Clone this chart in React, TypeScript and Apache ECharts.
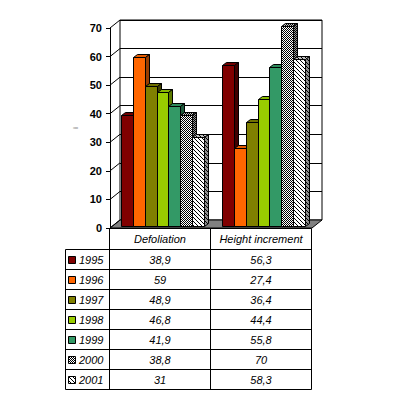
import React, { useEffect, useRef } from "react";
import * as echarts from "echarts";

const CATEGORIES = ["Defoliation", "Height increment"];
const YEARS = ["1995", "1996", "1997", "1998", "1999", "2000", "2001"];
const VALUES: number[][] = [
  [38.9, 56.3],
  [59, 27.4],
  [48.9, 36.4],
  [46.8, 44.4],
  [41.9, 55.8],
  [38.8, 70],
  [31, 58.3],
];
const Y_TICKS = [0, 10, 20, 30, 40, 50, 60, 70];
const Y_NAME = "i";

const FRONT = ["#800000", "#FF6600", "#808000", "#99CC00", "#339966", "pat1", "pat2"];
const TOPC = ["#700000", "#E65C00", "#707000", "#88B800", "#2E8A5C", "pat1t", "pat2t"];
const SIDE = ["#400000", "#993D00", "#404000", "#5C7A00", "#1F5C3D", "pat1s", "pat2s"];

const DEPTH_X = 10;
const DEPTH_Y = 8;
const BAR_DX = 4;
const BAR_DY = 3;
const GROUP_FRAC = 83 / 101;

function makePattern(size: number, fg: string, bg: string, fn: (x: number, y: number) => boolean) {
  const c = document.createElement("canvas");
  c.width = size;
  c.height = size;
  const ctx = c.getContext("2d")!;
  ctx.fillStyle = bg;
  ctx.fillRect(0, 0, size, size);
  ctx.fillStyle = fg;
  for (let y = 0; y < size; y++)
    for (let x = 0; x < size; x++) if (fn(x, y)) ctx.fillRect(x, y, 1, 1);
  return { image: c.toDataURL(), repeat: "repeat", imageWidth: size, imageHeight: size } as any;
}

const fmt = (v: number) => String(v).replace(".", ",");

export default function App() {
  const ref = useRef<HTMLDivElement>(null);
  useEffect(() => {
    document.body.style.margin = "0";
    const chart = echarts.init(ref.current!, null, { renderer: "svg" });
    const checker = (x: number, y: number) => (x + y) % 2 === 0;
    const hatch = (x: number, y: number) => x === y;
    const pats: Record<string, any> = {
      pat1: makePattern(4, "#000", "#fff", checker),
      pat1t: makePattern(4, "#000", "#c0c0c0", checker),
      pat1s: makePattern(4, "#000", "#909090", checker),
      pat2: makePattern(4, "#000", "#fff", hatch),
      pat2t: makePattern(4, "#000", "#c0c0c0", hatch),
      pat2s: makePattern(4, "#000", "#909090", hatch),
    };
    const col = (c: string) => (pats[c] ? pats[c] : c);

    const barSeries = YEARS.map((yr, si) => ({
      type: "custom",
      name: yr,
      xAxisIndex: 2,
      yAxisIndex: 2,
      z: 10,
      data: CATEGORIES.map((_, ci) => [ci, VALUES[si][ci]]),
      renderItem: (params: any, api: any) => {
        const cat = api.value(0);
        const v = api.value(1);
        const base = api.coord([cat, 0]);
        const top = api.coord([cat, v]);
        const band = api.size([1, 0])[0];
        const gw = band * GROUP_FRAC;
        const bw = gw / YEARS.length;
        const x0 = Math.round(base[0] - gw / 2 + si * bw) + 0.5;
        const x1 = Math.round(base[0] - gw / 2 + (si + 1) * bw) + 0.5;
        const y0 = Math.round(top[1]) + 0.5;
        const y1 = Math.round(base[1]) + 0.5;
        const st = { stroke: "#000", lineWidth: 1 };
        return {
          type: "group",
          children: [
            {
              type: "polygon",
              shape: { points: [[x0, y0], [x0 + BAR_DX, y0 - BAR_DY], [x1 + BAR_DX, y0 - BAR_DY], [x1, y0]] },
              style: { ...st, fill: col(TOPC[si]) },
            },
            {
              type: "polygon",
              shape: { points: [[x1, y0], [x1 + BAR_DX, y0 - BAR_DY], [x1 + BAR_DX, y1 - BAR_DY], [x1, y1]] },
              style: { ...st, fill: col(SIDE[si]) },
            },
            {
              type: "rect",
              shape: { x: x0, y: y0, width: x1 - x0, height: y1 - y0 },
              style: { ...st, fill: col(FRONT[si]) },
            },
          ],
        };
      },
    }));

    // table
    const tTop = 228.5;
    const headH = 21;
    const rowH = 20;
    const colX = [65.5, 109.5, 210.5, 311.5];
    const g: any[] = [];
    const font = "italic 11px 'Liberation Sans', Arial, sans-serif";
    const line = (x1: number, y1: number, x2: number, y2: number) =>
      g.push({ type: "line", shape: { x1, y1, x2, y2 }, style: { stroke: "#000", lineWidth: 1 }, z: 20 });
    const bottom = tTop + headH + rowH * YEARS.length;
    line(colX[1], tTop, colX[3], tTop);
    line(colX[1], tTop, colX[1], bottom);
    line(colX[2], tTop, colX[2], bottom);
    line(colX[3], tTop, colX[3], bottom);
    line(colX[0], tTop + headH, colX[0], bottom);
    for (let r = 0; r <= YEARS.length; r++) line(colX[0], tTop + headH + r * rowH, colX[3], tTop + headH + r * rowH);
    CATEGORIES.forEach((c, ci) =>
      g.push({
        type: "text", z: 20,
        style: { text: c, x: (colX[ci + 1] + colX[ci + 2]) / 2, y: tTop + headH / 2, font, fill: "#000", align: "center", verticalAlign: "middle" },
      })
    );
    YEARS.forEach((yr, si) => {
      const cy = tTop + headH + si * rowH + rowH / 2;
      g.push({
        type: "rect", z: 20,
        shape: { x: 68.5, y: Math.round(cy) - 3.5, width: 7, height: 7 },
        style: { fill: col(FRONT[si]), stroke: "#000", lineWidth: 1 },
      });
      g.push({
        type: "text", z: 20,
        style: { text: yr, x: 79, y: cy, font, fill: "#000", align: "left", verticalAlign: "middle" },
      });
      CATEGORIES.forEach((_, ci) =>
        g.push({
          type: "text", z: 20,
          style: { text: fmt(VALUES[si][ci]), x: (colX[ci + 1] + colX[ci + 2]) / 2, y: cy, font, fill: "#000", align: "center", verticalAlign: "middle" },
        })
      );
    });

    const yBase = { type: "value", min: 0, max: 70, interval: 10 };
    chart.setOption({
      animation: false,
      grid: [
        { left: 120, top: 20, width: 202, height: 200, show: true, backgroundColor: "#fff", borderColor: "#000", borderWidth: 1 },
        { left: 110, top: 28, width: 202, height: 200 },
        { left: 112, top: 26, width: 202, height: 200 },
      ],
      xAxis: [
        { gridIndex: 0, type: "value", min: 0, max: 1, show: false },
        { gridIndex: 1, type: "value", min: 0, max: 1, show: false },
        { gridIndex: 2, type: "category", data: CATEGORIES, show: false },
      ],
      yAxis: [
        { ...yBase, gridIndex: 0, axisLabel: { show: false }, axisLine: { show: false }, axisTick: { show: false }, splitLine: { show: true, lineStyle: { color: "#000", width: 1 } } },
        {
          ...yBase, gridIndex: 1,
          name: Y_NAME, nameLocation: "middle", nameGap: 31, nameRotate: 90,
          nameTextStyle: { fontSize: 7, color: "#000", fontFamily: "'Liberation Sans', Arial" },
          axisLine: { show: true, lineStyle: { color: "#000", width: 1 } },
          axisTick: { show: true, length: 4, lineStyle: { color: "#000" } },
          axisLabel: { margin: 8, color: "#000", fontWeight: "bold", fontSize: 11, fontFamily: "'Liberation Sans', Arial, sans-serif" },
          splitLine: { show: false },
          z: 12,
        },
        { ...yBase, gridIndex: 2, show: false, splitLine: { show: false } },
      ],
      series: [
        {
          type: "custom", xAxisIndex: 1, yAxisIndex: 1, z: 3, data: [[0, 0]],
          renderItem: (p: any, api: any) => {
            const a = api.coord([0, 0]);
            const b = api.coord([1, 0]);
            return {
              type: "polygon",
              shape: { points: [[a[0], a[1]], [b[0], b[1]], [b[0] + DEPTH_X, b[1] - DEPTH_Y], [a[0] + DEPTH_X, a[1] - DEPTH_Y]] },
              style: { fill: "#808080", stroke: "#000", lineWidth: 1 },
            };
          },
        },
        {
          type: "custom", xAxisIndex: 1, yAxisIndex: 1, z: 4, data: Y_TICKS.map((t) => [0, t]),
          renderItem: (p: any, api: any) => {
            const a = api.coord([0, api.value(1)]);
            return {
              type: "line",
              shape: { x1: a[0], y1: a[1], x2: a[0] + DEPTH_X, y2: a[1] - DEPTH_Y },
              style: { stroke: "#000", lineWidth: 1 },
            };
          },
        },
        ...barSeries,
      ],
      graphic: g,
    });
    return () => chart.dispose();
  }, []);
  return <div ref={ref} style={{ width: 400, height: 395 }} />;
}
